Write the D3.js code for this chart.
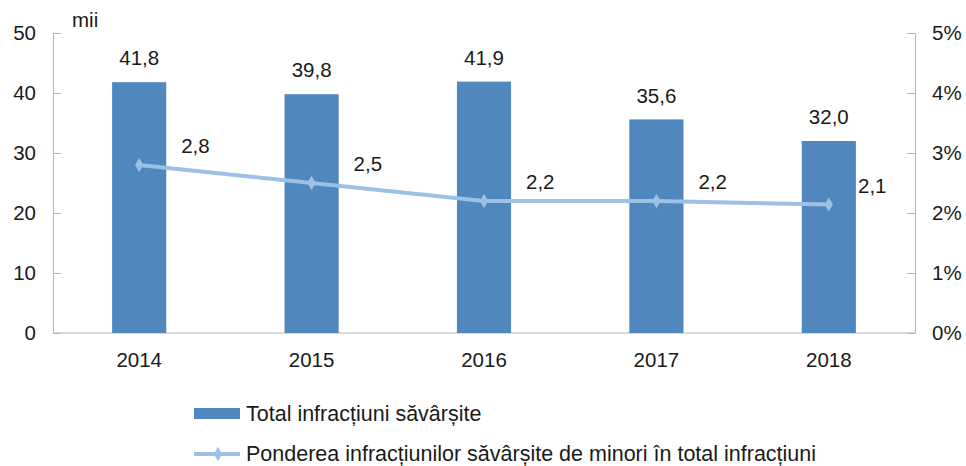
<!DOCTYPE html>
<html>
<head>
<meta charset="utf-8">
<script src="https://cdn.jsdelivr.net/npm/d3@7"></script>
<style>
  body { margin: 0; background: #fff; }
  text { font-family: "Liberation Sans", Arial, sans-serif; fill: #1a1a1a; }
</style>
</head>
<body>
<script>
// date
var years = ["2014", "2015", "2016", "2017", "2018"];
var totalInfractiuni = [41.8, 39.8, 41.9, 35.6, 32.0];   // mii
var pondereMinori = [2.8, 2.5, 2.2, 2.2, 2.14];          // %
var leftTicks = [0, 10, 20, 30, 40, 50];
var rightTicks = [0, 1, 2, 3, 4, 5];
var legendLabels = ["Total infracțiuni săvârșite",
  "Ponderea infracțiunilor săvârșite de minori în total infracțiuni"];

var barColor = "#4f87be", lineColor = "#9dc0e5", axisColor = "#b3b3b3";
var width = 966, height = 466, fs = "20.5px";
var fmt = function(v){ return d3.format(".1f")(v).replace(".", ","); };

var svg = d3.select("body").append("svg")
  .attr("width", width)
  .attr("height", height);

var x = d3.scaleBand().domain(years).range([53, 915]).paddingInner(0.686).paddingOuter(0.343);
var y = d3.scaleLinear().domain([0, 50]).range([333, 33]);
var y2 = d3.scaleLinear().domain([0, 5]).range([333, 33]);

// axa stanga
var gl = svg.append("g").attr("transform", "translate(53,0)")
  .call(d3.axisRight(y).tickValues(leftTicks).tickSize(8).tickSizeOuter(0).tickFormat(""));
gl.selectAll("line,path").attr("stroke", axisColor);
svg.selectAll(".ltick").data(leftTicks).enter().append("text")
  .attr("x", 36).attr("y", function(d){ return y(d); })
  .attr("dy", "0.35em").attr("text-anchor", "end")
  .attr("font-size", fs).text(function(d){ return d; });

// axa dreapta
var gr = svg.append("g").attr("transform", "translate(915,0)")
  .call(d3.axisLeft(y2).tickValues(rightTicks).tickSize(8).tickSizeOuter(0).tickFormat(""));
gr.selectAll("line,path").attr("stroke", axisColor);
svg.selectAll(".rtick").data(rightTicks).enter().append("text")
  .attr("x", 932).attr("y", function(d){ return y2(d); })
  .attr("dy", "0.35em").attr("text-anchor", "start")
  .attr("font-size", fs).text(function(d){ return d + "%"; });

// axa x
svg.append("line").attr("x1", 53).attr("x2", 915).attr("y1", y(0)).attr("y2", y(0))
  .attr("stroke", axisColor);
svg.selectAll(".xlab").data(years).enter().append("text")
  .attr("x", function(d){ return x(d) + x.bandwidth() / 2; })
  .attr("y", 360).attr("dy", "0.35em").attr("text-anchor", "middle")
  .attr("font-size", fs).text(function(d){ return d; });

svg.append("text").attr("x", 72).attr("y", 20).attr("dy", "0.35em")
  .attr("font-size", fs).text("mii");

// bare
svg.selectAll(".bar").data(totalInfractiuni).enter().append("rect")
  .attr("x", function(d, i){ return x(years[i]); })
  .attr("y", function(d){ return y(d); })
  .attr("width", x.bandwidth())
  .attr("height", function(d){ return y(0) - y(d); })
  .attr("fill", barColor);
svg.selectAll(".barlab").data(totalInfractiuni).enter().append("text")
  .attr("x", function(d, i){ return x(years[i]) + x.bandwidth() / 2; })
  .attr("y", function(d){ return y(d) - 24; })
  .attr("dy", "0.35em").attr("text-anchor", "middle")
  .attr("font-size", fs).text(fmt);

// linia
var cx = function(d, i){ return x(years[i]) + x.bandwidth() / 2; };
var line = d3.line().x(cx).y(function(d){ return y2(d); });
svg.append("path").datum(pondereMinori)
  .attr("d", line).attr("fill", "none")
  .attr("stroke", lineColor).attr("stroke-width", 4);
var diamond = d3.symbol().type(d3.symbolDiamond).size(60);
svg.selectAll(".pt").data(pondereMinori).enter().append("path")
  .attr("d", diamond)
  .attr("transform", function(d, i){ return "translate(" + cx(d, i) + "," + y2(d) + ")"; })
  .attr("fill", lineColor);
svg.selectAll(".ptlab").data(pondereMinori).enter().append("text")
  .attr("x", function(d, i){ return Math.min(cx(d, i) + 42, 915 - 57); })
  .attr("y", function(d){ return y2(d) - 19; })
  .attr("dy", "0.35em")
  .attr("font-size", fs).text(fmt);

// legenda
var lg = svg.append("g");
lg.append("rect").attr("x", 194).attr("y", 408).attr("width", 46).attr("height", 11).attr("fill", barColor);
lg.append("text").attr("x", 246).attr("y", 413).attr("dy", "0.35em")
  .attr("font-size", "21.5px").text(legendLabels[0]);
lg.append("line").attr("x1", 194).attr("x2", 240).attr("y1", 454).attr("y2", 454)
  .attr("stroke", lineColor).attr("stroke-width", 4);
lg.append("path").attr("d", diamond).attr("transform", "translate(218,454)").attr("fill", lineColor);
lg.append("text").attr("x", 246).attr("y", 453).attr("dy", "0.35em")
  .attr("font-size", "21.5px").text(legendLabels[1]);
</script>
</body>
</html>
